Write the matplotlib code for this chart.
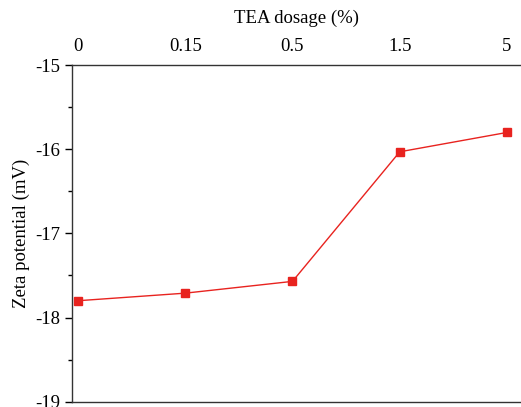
import matplotlib
matplotlib.use("Agg")
import matplotlib.pyplot as plt
from matplotlib.ticker import MultipleLocator

# data
dosage_labels = ["0", "0.15", "0.5", "1.5", "5"]
zeta = [-17.80, -17.71, -17.57, -16.03, -15.80]

plt.rcParams["font.family"] = ["Liberation Serif", "DejaVu Serif"]
plt.rcParams["axes.unicode_minus"] = False

fig = plt.figure(figsize=(5.21, 4.07), dpi=100)
ax = fig.add_axes([0.138, 0.013, 0.862, 0.827])

x = list(range(len(dosage_labels)))
ax.plot(x, zeta, color="#e8231f", lw=1.0, marker="s", markersize=6,
        markerfacecolor="#e8231f", markeredgecolor="#e8231f")

ax.set_xlim(-0.056, 4.13)
ax.set_ylim(-19, -15)

ax.xaxis.tick_top()
ax.xaxis.set_label_position("top")
ax.set_xticks(x)
ax.set_xticklabels(dosage_labels)
ax.tick_params(axis="x", length=0, labelsize=13.5, pad=7)
ax.set_xlabel("TEA dosage (%)", fontsize=13.5, labelpad=11)

ax.yaxis.set_major_locator(MultipleLocator(1))
ax.yaxis.set_minor_locator(MultipleLocator(0.5))
ax.tick_params(axis="y", which="major", length=5, width=1, labelsize=13.5, direction="out")
ax.tick_params(axis="y", which="minor", length=3, width=1, direction="out")
ax.set_ylabel("Zeta potential (mV)", fontsize=13.5, labelpad=4)

ax.spines["right"].set_visible(False)
for s in ["left", "top", "bottom"]:
    ax.spines[s].set_color("#333333")
    ax.spines[s].set_linewidth(1.0)

fig.savefig("out.png", dpi=100)
